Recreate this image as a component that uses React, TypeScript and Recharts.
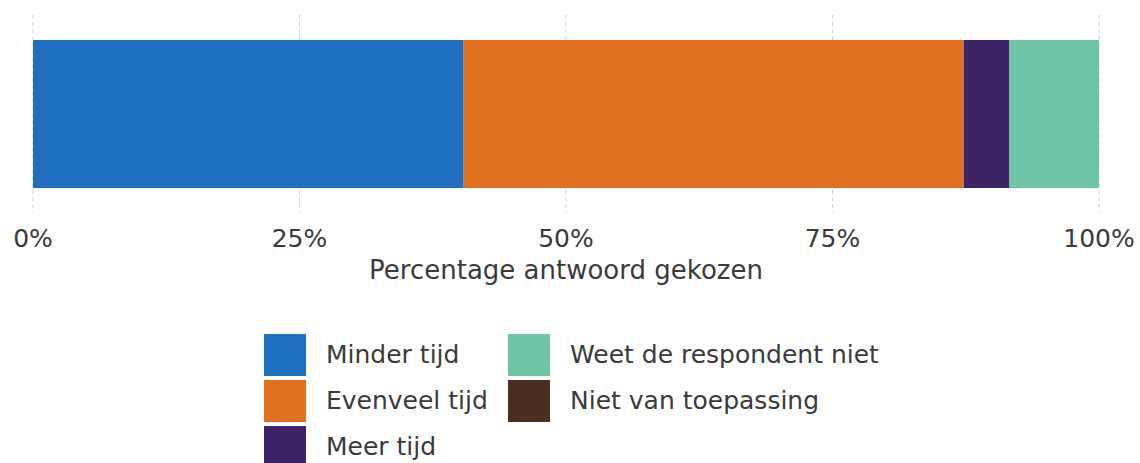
import React from 'react';
import { BarChart, Bar, XAxis, YAxis, CartesianGrid } from 'recharts';

const categories = ['Antwoord'];
const seriesNames = ['Minder tijd', 'Evenveel tijd', 'Meer tijd', 'Weet de respondent niet', 'Niet van toepassing'];
const seriesKeys = ['minder', 'evenveel', 'meer', 'weetniet', 'nvt'];
const seriesColors = ['#1f6ec0', '#e0711f', '#3c2467', '#70c5a7', '#4a2e22'];
const minderValues = [40.4];
const evenveelValues = [46.9];
const meerValues = [4.3];
const weetNietValues = [8.4];
const nvtValues = [0];
const xTicks = [0, 25, 50, 75, 100];
const axisTitle = 'Percentage antwoord gekozen';

const valueArrays = [minderValues, evenveelValues, meerValues, weetNietValues, nvtValues];
const data = categories.map((name, i) => {
  const row: Record<string, any> = { name };
  seriesKeys.forEach((k, j) => { row[k] = valueArrays[j][i]; });
  return row;
});

const FONT = '"DejaVu Sans", Verdana, sans-serif';
const TEXT = '#3a3a3a';

// legend layout: column 1 = first 3 series, column 2 = rest
const legendCols = [[0, 1, 2], [3, 4]];

export default function App() {
  return (
    <div style={{ position: 'absolute', left: 0, top: 0, width: 1140, height: 463, background: '#fff', fontFamily: FONT }}>
      <BarChart
        width={1140}
        height={463}
        data={data}
        layout="vertical"
        margin={{ top: 15, right: 41, left: 33, bottom: 171 }}
        barSize={148}
      >
        <CartesianGrid horizontal={false} stroke="#cfcfcf" strokeDasharray="4 3" />
        <XAxis
          type="number"
          domain={[0, 100]}
          ticks={xTicks}
          tickFormatter={(v: number) => `${v}%`}
          axisLine={false}
          tickLine={false}
          tickSize={0}
          tickMargin={17}
          height={80}
          interval={0}
          tick={{ fill: TEXT, fontSize: 25, fontFamily: FONT }}
          label={{ value: axisTitle, position: 'insideTop', offset: 49, fill: TEXT, fontSize: 26, fontFamily: FONT }}
        />
        <YAxis type="category" dataKey="name" hide />
        {seriesKeys.map((k, j) => (
          <Bar key={k} dataKey={k} name={seriesNames[j]} stackId="a" fill={seriesColors[j]} isAnimationActive={false} />
        ))}
      </BarChart>
      <div style={{ position: 'absolute', left: 264, top: 334, display: 'flex' }}>
        {legendCols.map((col, ci) => (
          <div key={ci} style={{ width: ci === 0 ? 244 : 340, display: 'flex', flexDirection: 'column' }}>
            {col.map((j) => (
              <div key={j} style={{ display: 'flex', alignItems: 'center', height: 42, marginBottom: 4 }}>
                <div style={{ width: 42, height: 42, background: seriesColors[j], marginRight: 20, flexShrink: 0 }} />
                <span style={{ fontSize: 25, color: TEXT, whiteSpace: 'nowrap', lineHeight: '30px' }}>{seriesNames[j]}</span>
              </div>
            ))}
          </div>
        ))}
      </div>
    </div>
  );
}
